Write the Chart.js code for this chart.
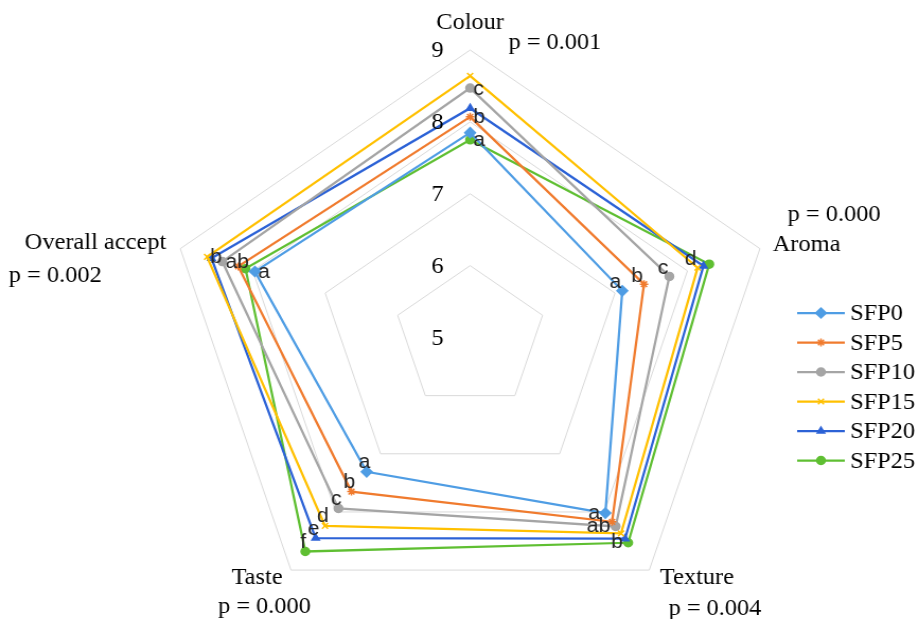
<!DOCTYPE html>
<html>
<head>
<meta charset="utf-8">
<title>Sensory radar chart</title>
<script src="https://cdn.jsdelivr.net/npm/chart.js@4.4.1/dist/chart.umd.min.js"></script>
<style>
  html, body { margin: 0; padding: 0; background: #fff; overflow: hidden; }
  /* the source picture is a little wider than tall, so stretch the drawing */
  #wrap { width: 867px; height: 619px; transform: scaleX(1.06); transform-origin: 0 0; }
</style>
</head>
<body>
<div id="wrap"><canvas id="myChart"></canvas></div>
<script>

// DATA
var categories = ['Colour', 'Aroma', 'Texture', 'Taste', 'Overall accept'];
var pValues = ['p = 0.001', 'p = 0.000', 'p = 0.004', 'p = 0.000', 'p = 0.002'];
var tickValues = [5, 6, 7, 8, 9];
var seriesNames = ['SFP0', 'SFP5', 'SFP10', 'SFP15', 'SFP20', 'SFP25'];

var sfp0  = [7.85, 7.10, 8.02, 7.31, 7.97];
var sfp5  = [8.07, 7.40, 8.17, 7.65, 8.20];
var sfp10 = [8.47, 7.75, 8.25, 7.94, 8.42];
var sfp15 = [8.64, 8.14, 8.37, 8.24, 8.63];
var sfp20 = [8.19, 8.22, 8.46, 8.45, 8.57];
var sfp25 = [7.75, 8.30, 8.53, 8.68, 8.10];

// significance letters shown next to the points
var letters0  = ['',  'a', 'a',  'a', 'a'];
var letters5  = ['b', 'b', '',   'b', ''];
var letters10 = ['c', 'c', 'ab', 'c', 'ab'];
var letters15 = ['',  'd', '',   'd', 'b'];
var letters20 = ['',  '',  '',   'e', ''];
var letters25 = ['a', '',  'b',  'f', ''];


var colours = ['#4f9de4', '#f07b2e', '#a5a5a5', '#ffc000', '#2c62d6', '#5fbf32'];
var markers = ['rectRot', 'star', 'circle', 'crossRot', 'triangle', 'circle'];
var allValues = [sfp0, sfp5, sfp10, sfp15, sfp20, sfp25];
var allLetters = [letters0, letters5, letters10, letters15, letters20, letters25];

var datasets = seriesNames.map(function (name, i) {
    return {
        label: name,
        data: allValues[i],
        letters: allLetters[i],
        borderColor: colours[i],
        backgroundColor: colours[i],
        pointBackgroundColor: colours[i],
        pointBorderColor: colours[i],
        pointStyle: markers[i],
        pointRadius: markers[i] == 'rectRot' ? 5 : 4,
        pointBorderWidth: 1.5,
        borderWidth: 2.25,
        fill: false
    };
});

var serif = "'Liberation Serif', 'Times New Roman', serif";

// text round the chart: axis names, p values, tick numbers, letters, legend
var textPlugin = {
    id: 'textPlugin',
    afterDraw: function (chart) {
        var ctx = chart.ctx;
        var scale = chart.scales.r;
        ctx.save();

        // tick numbers, left of the vertical axis
        ctx.font = '23px ' + serif;
        ctx.fillStyle = '#000';
        ctx.textAlign = 'right';
        ctx.textBaseline = 'middle';
        tickValues.forEach(function (v) {
            var d = scale.getDistanceFromCenterForValue(v);
            ctx.fillText(String(v), scale.xCenter - 25, scale.yCenter - d + 1);
        });

        // axis names and p values
        var nameOff = [[0, -27], [44, -4], [45, 8], [-32, 8], [-80, -6]];
        var pOff = [[80, -7], [70, -34], [62, 39], [-25, 37], [-118, 27]];
        ctx.textAlign = 'center';
        categories.forEach(function (c, i) {
            var pt = scale.getPointPosition(i, scale.drawingArea);
            ctx.fillText(c, pt.x + nameOff[i][0], pt.y + nameOff[i][1]);
            ctx.fillText(pValues[i], pt.x + pOff[i][0], pt.y + pOff[i][1]);
        });

        // letters beside the points
        var place = ['right', 'upleft', 'left', 'above', 'right'];
        ctx.font = '20px "Liberation Sans", Arial, sans-serif';
        ctx.fillStyle = '#262626';
        chart.data.datasets.forEach(function (ds, i) {
            var meta = chart.getDatasetMeta(i);
            ds.letters.forEach(function (txt, j) {
                if (!txt) return;
                var p = meta.data[j];
                var x = p.x, y = p.y;
                if (place[j] == 'right') { ctx.textAlign = 'left'; x += 3; y += 1; }
                else if (place[j] == 'left') { ctx.textAlign = 'right'; x -= 5; }
                else if (place[j] == 'upleft') { ctx.textAlign = 'right'; x -= 1; y -= 8; }
                else { ctx.textAlign = 'center'; x -= 2; y -= 9; }
                ctx.fillText(txt, x, y);
            });
        });

        // legend: line with marker, then name
        ctx.font = '23px ' + serif;
        ctx.fillStyle = '#000';
        ctx.textAlign = 'left';
        chart.data.datasets.forEach(function (ds, i) {
            var y = 313 + i * 29.5;
            ctx.strokeStyle = ds.borderColor;
            ctx.lineWidth = 2.25;
            ctx.beginPath();
            ctx.moveTo(752, y);
            ctx.lineTo(797, y);
            ctx.stroke();
            ctx.fillStyle = ds.borderColor;
            ctx.lineWidth = 1.5;
            Chart.helpers.drawPoint(ctx, {
                pointStyle: ds.pointStyle, radius: ds.pointRadius, rotation: 0, borderWidth: 1.5
            }, 774.5, y);
            ctx.fillStyle = '#000';
            ctx.fillText(ds.label, 802, y + 1);
        });

        ctx.restore();
    }
};

var ctx = document.getElementById('myChart').getContext('2d');

var myChart = new Chart(ctx, {
    type: 'radar',
    data: {
        labels: categories,
        datasets: datasets
    },
    options: {
        responsive: true,
        maintainAspectRatio: false,
        animation: false,
        plugins: {
            legend: { display: false },
            tooltip: { enabled: false }
        },
        elements: {
            line: { tension: 0 }
        },
        scales: {
            r: {
                min: 5,
                max: 9,
                ticks: { stepSize: 1, display: false },
                grid: { color: '#d9d9d9', lineWidth: 1 },
                angleLines: { display: false },
                pointLabels: { display: false },
                // put the web where it sits in the picture
                afterFit: function (scale) {
                    scale.xCenter = 443.5;
                    scale.yCenter = 337.5;
                    scale.drawingArea = 287.5;
                }
            }
        }
    },
    plugins: [textPlugin]
});

</script>
</body>
</html>
